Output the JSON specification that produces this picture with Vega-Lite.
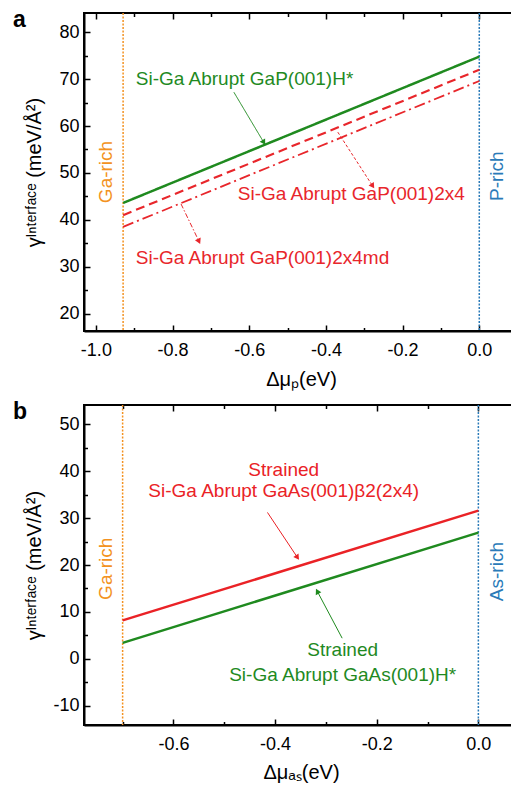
{
  "$schema": "https://vega.github.io/schema/vega-lite/v6.json",
  "background": "white",
  "padding": {"left": 12, "top": 8, "right": 0, "bottom": 0},
  "spacing": 10,
  "datasets": {
    "lines": [
      {"panel": "a", "series": "H*", "x": -0.929, "y": 43.6},
      {"panel": "a", "series": "H*", "x": 0, "y": 74.8},
      {"panel": "a", "series": "2x4", "x": -0.929, "y": 41.0},
      {"panel": "a", "series": "2x4", "x": 0, "y": 72.0},
      {"panel": "a", "series": "2x4md", "x": -0.929, "y": 38.5},
      {"panel": "a", "series": "2x4md", "x": 0, "y": 69.6},
      {"panel": "b", "series": "β2(2x4)", "x": -0.7, "y": 8.2},
      {"panel": "b", "series": "β2(2x4)", "x": 0, "y": 31.6},
      {"panel": "b", "series": "H*", "x": -0.7, "y": 3.4},
      {"panel": "b", "series": "H*", "x": 0, "y": 26.9}
    ],
    "bounds": [
      {"panel": "a", "series": "Ga-rich", "x": -0.929},
      {"panel": "a", "series": "P-rich", "x": 0},
      {"panel": "b", "series": "Ga-rich", "x": -0.7},
      {"panel": "b", "series": "As-rich", "x": 0}
    ],
    "arrows": [
      {"panel": "a", "series": "H*", "x": -0.640, "y": 67.2, "x2": -0.562, "y2": 56.5},
      {"panel": "a", "series": "2x4", "x": -0.369, "y": 58.7, "x2": -0.278, "y2": 47.2},
      {"panel": "a", "series": "2x4md", "x": -0.778, "y": 43.4, "x2": -0.731, "y2": 35.4},
      {"panel": "b", "series": "β2(2x4)", "x": -0.415, "y": 31.2, "x2": -0.356, "y2": 21.6},
      {"panel": "b", "series": "H*", "x": -0.268, "y": 4.4, "x2": -0.317, "y2": 14.4}
    ],
    "notes": [
      {"panel": "a", "series": "H*", "text": "Si-Ga Abrupt GaP(001)H*", "x": -0.896, "y": 70.0},
      {"panel": "a", "series": "2x4", "text": "Si-Ga Abrupt GaP(001)2x4", "x": -0.630, "y": 45.5},
      {"panel": "a", "series": "2x4md", "text": "Si-Ga Abrupt GaP(001)2x4md", "x": -0.896, "y": 31.8},
      {"panel": "b", "series": "β2(2x4)", "text": "Strained", "x": -0.383, "y": 40.3},
      {"panel": "b", "series": "β2(2x4)", "text": "Si-Ga Abrupt GaAs(001)β2(2x4)", "x": -0.383, "y": 35.7},
      {"panel": "b", "series": "H*", "text": "Strained", "x": -0.267, "y": 1.9},
      {"panel": "b", "series": "H*", "text": "Si-Ga Abrupt GaAs(001)H*", "x": -0.267, "y": -3.4}
    ],
    "regions": [
      {"panel": "a", "series": "Ga-rich", "text": "Ga-rich", "x": -0.974, "y": 50.2},
      {"panel": "a", "series": "P-rich", "text": "P-rich", "x": 0.045, "y": 49.3},
      {"panel": "b", "series": "Ga-rich", "text": "Ga-rich", "x": -0.733, "y": 19.2},
      {"panel": "b", "series": "As-rich", "text": "As-rich", "x": 0.037, "y": 18.6}
    ]
  },
  "vconcat": [
    {
      "width": 434,
      "height": 318,
      "title": {"text": "a", "anchor": "start", "frame": "group", "dx": -71, "dy": 26, "offset": -12, "baseline": "alphabetic", "fontSize": 23, "fontWeight": "bold", "font": "Liberation Sans", "color": "black"},
      "encoding": {
        "x": {"field": "x", "type": "quantitative", "scale": {"domain": [-1.031, 0.101], "nice": false, "zero": false}, "axis": null},
        "color": {"field": "series", "type": "nominal", "scale": {"domain": ["H*", "2x4", "2x4md", "Ga-rich", "P-rich"], "range": ["#1f8a1f", "#e8262b", "#e8262b", "#f39221", "#2a7ab8"]}, "legend": null}
      },
      "layer": [
        {
          "data": {"name": "bounds"},
          "transform": [{"filter": "datum.panel == 'a'"}],
          "mark": {"type": "rule", "strokeDash": [2, 1.5], "strokeWidth": 1.5},
          "encoding": {
            "x": {"field": "x", "type": "quantitative", "scale": {"domain": [-1.031, 0.101], "nice": false, "zero": false},
              "axis": {"orient": "top", "values": [-1, -0.9, -0.8, -0.7, -0.6, -0.5, -0.4, -0.3, -0.2, -0.1, 0], "labels": false, "title": null, "domain": false,
                "tickSize": {"condition": {"test": "abs(round(datum.value*10)) % 2 == 0", "value": -6}, "value": -3.5}}}
          }
        },
        {
          "data": {"name": "lines"},
          "transform": [{"filter": "datum.panel == 'a'"}],
          "mark": {"type": "line"},
          "encoding": {
            "x": {"field": "x", "type": "quantitative", "scale": {"domain": [-1.031, 0.101], "nice": false, "zero": false},
              "axis": {"orient": "bottom", "values": [-1, -0.9, -0.8, -0.7, -0.6, -0.5, -0.4, -0.3, -0.2, -0.1, 0],
                "labelExpr": "abs(round(datum.value*10)) % 2 == 0 ? (datum.value < -0.001 ? '-' : '') + format(abs(datum.value), '.1f') : ''",
                "tickSize": {"condition": {"test": "abs(round(datum.value*10)) % 2 == 0", "value": -6}, "value": -3.5},
                "labelPadding": 16, "title": "Δμₚ(eV)", "titlePadding": 10}},
            "y": {"field": "y", "type": "quantitative", "scale": {"domain": [16.3, 84.1], "nice": false, "zero": false},
              "axis": {"orient": "left", "values": [20, 25, 30, 35, 40, 45, 50, 55, 60, 65, 70, 75, 80],
                "labelExpr": "datum.value % 10 == 0 ? '' + datum.value : ''",
                "tickSize": {"condition": {"test": "datum.value % 10 == 0", "value": -6}, "value": -3.5},
                "labelPadding": 11, "title": "γᴵⁿᵗᵉʳᶠᵃᶜᵉ (meV/Å²)", "titleAngle": 270, "titleX": -44, "titleY": 159, "titleBaseline": "alphabetic", "titleAlign": "center"}},
            "strokeDash": {"field": "series", "type": "nominal", "scale": {"domain": ["H*", "2x4", "2x4md"], "range": [[1, 0], [9, 5], [11, 4, 2, 4]]}, "legend": null},
            "strokeWidth": {"field": "series", "type": "nominal", "scale": {"domain": ["H*", "2x4", "2x4md"], "range": [2.5, 1.8, 1.8]}, "legend": null}
          }
        },
        {
          "data": {"name": "arrows"},
          "transform": [{"filter": "datum.panel == 'a'"}],
          "mark": {"type": "rule", "strokeWidth": 1},
          "encoding": {
            "y": {"field": "y", "type": "quantitative", "scale": {"domain": [16.3, 84.1], "nice": false, "zero": false}, "axis": null},
            "x2": {"field": "x2"},
            "y2": {"field": "y2"},
            "strokeDash": {"field": "series", "type": "nominal", "scale": {"domain": ["H*", "2x4", "2x4md"], "range": [[1, 0], [3, 2], [5, 2, 1.5, 2]]}, "legend": null}
          }
        },
        {
          "data": {"name": "arrows"},
          "transform": [{"filter": "datum.panel == 'a' && datum.series == 'H*'"}],
          "mark": {"type": "point", "shape": "triangle-up", "filled": true, "opacity": 1, "size": 40, "angle": 149},
          "encoding": {
            "x": {"field": "x2", "type": "quantitative", "scale": {"domain": [-1.031, 0.101], "nice": false, "zero": false}, "axis": null},
            "y": {"field": "y2", "type": "quantitative", "scale": {"domain": [16.3, 84.1], "nice": false, "zero": false}, "axis": null}
          }
        },
        {
          "data": {"name": "arrows"},
          "transform": [{"filter": "datum.panel == 'a' && datum.series == '2x4'"}],
          "mark": {"type": "point", "shape": "triangle-up", "filled": true, "opacity": 1, "size": 40, "angle": 147},
          "encoding": {
            "x": {"field": "x2", "type": "quantitative", "scale": {"domain": [-1.031, 0.101], "nice": false, "zero": false}, "axis": null},
            "y": {"field": "y2", "type": "quantitative", "scale": {"domain": [16.3, 84.1], "nice": false, "zero": false}, "axis": null}
          }
        },
        {
          "data": {"name": "arrows"},
          "transform": [{"filter": "datum.panel == 'a' && datum.series == '2x4md'"}],
          "mark": {"type": "point", "shape": "triangle-up", "filled": true, "opacity": 1, "size": 40, "angle": 154},
          "encoding": {
            "x": {"field": "x2", "type": "quantitative", "scale": {"domain": [-1.031, 0.101], "nice": false, "zero": false}, "axis": null},
            "y": {"field": "y2", "type": "quantitative", "scale": {"domain": [16.3, 84.1], "nice": false, "zero": false}, "axis": null}
          }
        },
        {
          "data": {"name": "notes"},
          "transform": [{"filter": "datum.panel == 'a'"}],
          "mark": {"type": "text", "align": "left", "baseline": "middle", "font": "Liberation Sans", "fontSize": 19},
          "encoding": {
            "y": {"field": "y", "type": "quantitative", "scale": {"domain": [16.3, 84.1], "nice": false, "zero": false}, "axis": null},
            "text": {"field": "text", "type": "nominal"}
          }
        },
        {
          "data": {"name": "regions"},
          "transform": [{"filter": "datum.panel == 'a'"}],
          "mark": {"type": "text", "align": "center", "baseline": "middle", "angle": 270, "font": "Liberation Sans", "fontSize": 19},
          "encoding": {
            "y": {"field": "y", "type": "quantitative", "scale": {"domain": [16.3, 84.1], "nice": false, "zero": false}, "axis": null},
            "text": {"field": "text", "type": "nominal"}
          }
        }
      ],
      "resolve": {"axis": {"x": "independent", "y": "independent"}, "scale": {"strokeDash": "independent"}}
    },
    {
      "width": 434,
      "height": 320,
      "title": {"text": "b", "anchor": "start", "frame": "group", "dx": -71, "dy": 26, "offset": -12, "baseline": "alphabetic", "fontSize": 23, "fontWeight": "bold", "font": "Liberation Sans", "color": "black"},
      "encoding": {
        "x": {"field": "x", "type": "quantitative", "scale": {"domain": [-0.776, 0.078], "nice": false, "zero": false}, "axis": null},
        "color": {"field": "series", "type": "nominal", "scale": {"domain": ["H*", "β2(2x4)", "Ga-rich", "As-rich"], "range": ["#1f8a1f", "#ea2226", "#f39221", "#2a7ab8"]}, "legend": null}
      },
      "layer": [
        {
          "data": {"name": "bounds"},
          "transform": [{"filter": "datum.panel == 'b'"}],
          "mark": {"type": "rule", "strokeDash": [2, 1.5], "strokeWidth": 1.5},
          "encoding": {
            "x": {"field": "x", "type": "quantitative", "scale": {"domain": [-0.776, 0.078], "nice": false, "zero": false},
              "axis": {"orient": "top", "values": [-0.7, -0.6, -0.5, -0.4, -0.3, -0.2, -0.1, 0], "labels": false, "title": null, "domain": false,
                "tickSize": {"condition": {"test": "abs(round(datum.value*10)) % 2 == 0", "value": -6}, "value": -3.5}}}
          }
        },
        {
          "data": {"name": "lines"},
          "transform": [{"filter": "datum.panel == 'b'"}],
          "mark": {"type": "line", "strokeWidth": 2.5},
          "encoding": {
            "x": {"field": "x", "type": "quantitative", "scale": {"domain": [-0.776, 0.078], "nice": false, "zero": false},
              "axis": {"orient": "bottom", "values": [-0.7, -0.6, -0.5, -0.4, -0.3, -0.2, -0.1, 0],
                "labelExpr": "abs(round(datum.value*10)) % 2 == 0 ? (datum.value < -0.001 ? '-' : '') + format(abs(datum.value), '.1f') : ''",
                "tickSize": {"condition": {"test": "abs(round(datum.value*10)) % 2 == 0", "value": -6}, "value": -3.5},
                "labelPadding": 16, "title": "Δμₐₛ(eV)", "titlePadding": 9}},
            "y": {"field": "y", "type": "quantitative", "scale": {"domain": [-14.1, 54.1], "nice": false, "zero": false},
              "axis": {"orient": "left", "values": [-10, -5, 0, 5, 10, 15, 20, 25, 30, 35, 40, 45, 50],
                "labelExpr": "datum.value % 10 == 0 ? (datum.value < 0 ? '-' : '') + abs(datum.value) : ''",
                "tickSize": {"condition": {"test": "datum.value % 10 == 0", "value": -6}, "value": -3.5},
                "labelPadding": 11, "title": "γᴵⁿᵗᵉʳᶠᵃᶜᵉ (meV/Å²)", "titleAngle": 270, "titleX": -44, "titleY": 160, "titleBaseline": "alphabetic", "titleAlign": "center"}},
            "detail": {"field": "series", "type": "nominal"}
          }
        },
        {
          "data": {"name": "arrows"},
          "transform": [{"filter": "datum.panel == 'b'"}],
          "mark": {"type": "rule", "strokeWidth": 1},
          "encoding": {
            "y": {"field": "y", "type": "quantitative", "scale": {"domain": [-14.1, 54.1], "nice": false, "zero": false}, "axis": null},
            "x2": {"field": "x2"},
            "y2": {"field": "y2"}
          }
        },
        {
          "data": {"name": "arrows"},
          "transform": [{"filter": "datum.panel == 'b' && datum.series == 'H*'"}],
          "mark": {"type": "point", "shape": "triangle-up", "filled": true, "opacity": 1, "size": 40, "angle": 332},
          "encoding": {
            "x": {"field": "x2", "type": "quantitative", "scale": {"domain": [-0.776, 0.078], "nice": false, "zero": false}, "axis": null},
            "y": {"field": "y2", "type": "quantitative", "scale": {"domain": [-14.1, 54.1], "nice": false, "zero": false}, "axis": null}
          }
        },
        {
          "data": {"name": "arrows"},
          "transform": [{"filter": "datum.panel == 'b' && datum.series == 'β2(2x4)'"}],
          "mark": {"type": "point", "shape": "triangle-up", "filled": true, "opacity": 1, "size": 40, "angle": 146},
          "encoding": {
            "x": {"field": "x2", "type": "quantitative", "scale": {"domain": [-0.776, 0.078], "nice": false, "zero": false}, "axis": null},
            "y": {"field": "y2", "type": "quantitative", "scale": {"domain": [-14.1, 54.1], "nice": false, "zero": false}, "axis": null}
          }
        },
        {
          "data": {"name": "notes"},
          "transform": [{"filter": "datum.panel == 'b'"}],
          "mark": {"type": "text", "align": "center", "baseline": "middle", "font": "Liberation Sans", "fontSize": 19},
          "encoding": {
            "y": {"field": "y", "type": "quantitative", "scale": {"domain": [-14.1, 54.1], "nice": false, "zero": false}, "axis": null},
            "text": {"field": "text", "type": "nominal"}
          }
        },
        {
          "data": {"name": "regions"},
          "transform": [{"filter": "datum.panel == 'b'"}],
          "mark": {"type": "text", "align": "center", "baseline": "middle", "angle": 270, "font": "Liberation Sans", "fontSize": 19},
          "encoding": {
            "y": {"field": "y", "type": "quantitative", "scale": {"domain": [-14.1, 54.1], "nice": false, "zero": false}, "axis": null},
            "text": {"field": "text", "type": "nominal"}
          }
        }
      ],
      "resolve": {"axis": {"x": "independent", "y": "independent"}}
    }
  ],
  "resolve": {"scale": {"x": "independent", "y": "independent", "color": "independent", "strokeDash": "independent"}},
  "config": {
    "view": {"stroke": "black", "strokeWidth": 2},
    "font": "Liberation Sans",
    "axis": {
      "grid": false,
      "domainColor": "black",
      "domainWidth": 2,
      "tickColor": "black",
      "tickWidth": 1.5,
      "labelFont": "Liberation Sans",
      "labelFontSize": 18,
      "labelColor": "black",
      "titleFont": "Liberation Sans",
      "titleFontSize": 20,
      "titleFontWeight": "normal",
      "titleColor": "black"
    }
  }
}
